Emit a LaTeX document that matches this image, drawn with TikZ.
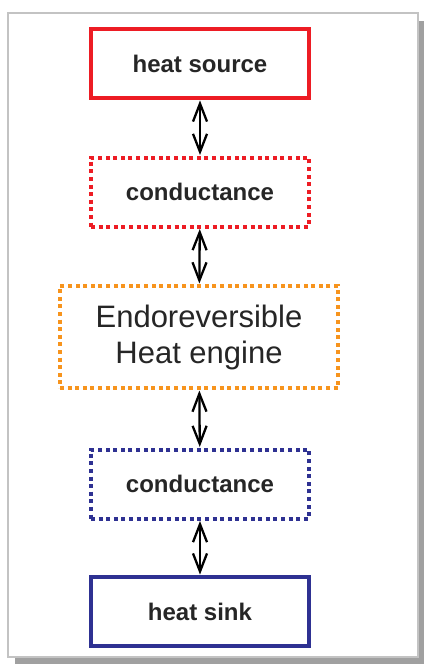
\documentclass[tikz,border=0pt]{standalone}
\usepackage{fontspec}
\setmainfont{Liberation Sans}
\usetikzlibrary{arrows.meta}
\definecolor{srcred}{RGB}{237,28,36}
\definecolor{engorange}{RGB}{247,148,29}
\definecolor{sinkblue}{RGB}{46,49,146}
\definecolor{framegray}{RGB}{195,195,195}
\definecolor{shadowgray}{RGB}{160,160,160}
\begin{document}
\begin{tikzpicture}[x=1pt,y=-1pt,semithick,
  box/.style={draw,line width=3.8pt,minimum width=218pt,minimum height=69pt,
    inner sep=0pt,font=\fontsize{24}{28}\selectfont\bfseries,text=black!85},
  dotbox/.style={box,line width=4pt,dash pattern=on 4pt off 3.6pt},
  link/.style={{Straight Barb[length=18pt,width=14pt]}-{Straight Barb[length=18pt,width=14pt]},
    line width=2.3pt,shorten <=0.5pt,shorten >=0.5pt}]
\useasboundingbox (0,0) rectangle (424,664);
% frame with shadow
\fill[shadowgray] (15,21) rectangle (424,664);
\draw[framegray,line width=2.4pt,fill=white] (8,13) rectangle (418,657);
% boxes
\coordinate (S) at (200,63.5);
\coordinate (C1) at (200,192);
\coordinate (E) at (199,337);
\coordinate (C2) at (200,484);
\coordinate (K) at (200,611.5);
\node[box,draw=srcred] (source) at (S) {heat source};
\node[dotbox,draw=srcred] (condhot) at (C1) {conductance};
\node[dotbox,draw=engorange,minimum width=278pt,minimum height=102pt,
  font=\fontsize{31}{36}\selectfont,align=center] (engine) at (E)
  {Endoreversible\\Heat engine};
\node[dotbox,draw=sinkblue] (condcold) at (C2) {conductance};
\node[box,draw=sinkblue] (sink) at (K) {heat sink};
% links
\draw[link] (source) -- (condhot);
\draw[link] (condhot) -- (engine);
\draw[link] (engine) -- (condcold);
\draw[link] (condcold) -- (sink);
\end{tikzpicture}
\end{document}
